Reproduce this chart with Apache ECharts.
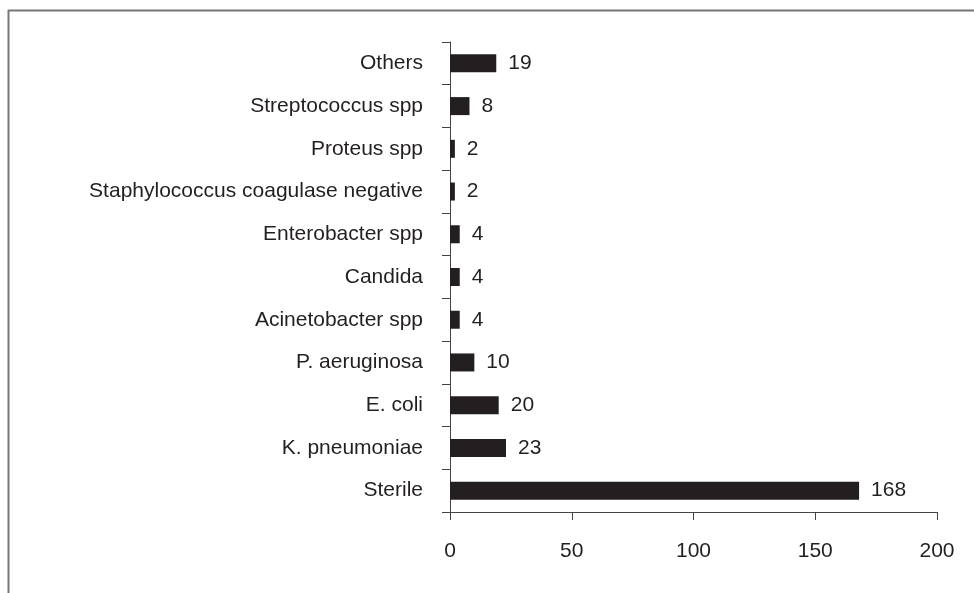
<!DOCTYPE html>
<html><head><meta charset="utf-8">
<script src="https://cdn.jsdelivr.net/npm/echarts@6/dist/echarts.min.js"></script>
<style>html,body{margin:0;padding:0;background:#fff}#c{width:974px;height:593px}</style>
</head><body><div id="c"></div>
<script>
var categories = ["Sterile","K. pneumoniae","E. coli","P. aeruginosa","Acinetobacter spp","Candida","Enterobacter spp","Staphylococcus coagulase negative","Proteus spp","Streptococcus spp","Others"];
var counts = [168,23,20,10,4,4,4,2,2,8,19];
var xTicks = [0,50,100,150,200];

var chart = echarts.init(document.getElementById('c'), null, {renderer:'canvas'});
var txt = '#231f20';
chart.setOption({
  animation:false,
  backgroundColor:'#fff',
  textStyle:{fontFamily:'Liberation Sans, Arial, sans-serif'},
  grid:{left:450,right:37,top:42,bottom:81,containLabel:false},
  xAxis:{type:'value',min:xTicks[0],max:xTicks[xTicks.length-1],interval:50,
    axisLine:{show:true,lineStyle:{color:'#444',width:1}},
    axisTick:{show:true,length:8,lineStyle:{color:'#444'}},
    splitLine:{show:false},
    axisLabel:{color:txt,fontSize:21,margin:29}},
  yAxis:{type:'category',data:categories,
    axisLine:{show:true,lineStyle:{color:'#444',width:1}},
    axisTick:{show:true,length:8,alignWithLabel:false,lineStyle:{color:'#444'}},
    axisLabel:{color:txt,fontSize:21,margin:27}},
  series:[{type:'bar',data:counts,barWidth:18,itemStyle:{color:'#231f20'},
    label:{show:true,position:'right',distance:12,color:txt,fontSize:21}}],
  graphic:[
    {type:'line',shape:{x1:8,y1:10.5,x2:974,y2:10.5},style:{stroke:'#777',lineWidth:2}},
    {type:'line',shape:{x1:8.5,y1:10,x2:8.5,y2:593},style:{stroke:'#777',lineWidth:2}}
  ]
});
</script></body></html>
